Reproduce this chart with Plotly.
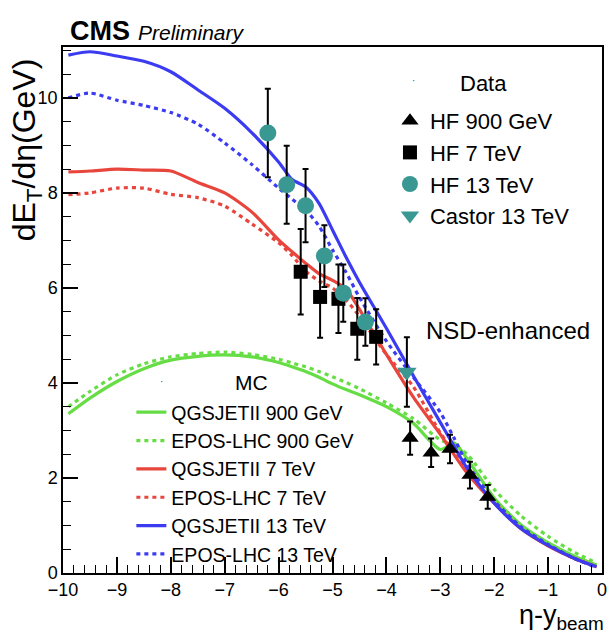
import plotly.graph_objects as go

# ---------------- data ----------------
x_mc = [-9.9, -9.5, -9.0, -8.5, -8.0, -7.5, -7.0, -6.5, -6.0, -5.75, -5.5, -5.25,
        -5.0, -4.75, -4.5, -4.0, -3.5, -3.0, -2.75, -2.5, -2.0, -1.5, -1.0, -0.5, -0.1]

qgs_900 = [3.35, 3.68, 4.03, 4.30, 4.48, 4.56, 4.59, 4.55, 4.43, 4.34, 4.24, 4.12,
           3.98, 3.86, 3.75, 3.50, 3.15, 2.60, 2.74, 2.40, 1.58, 1.01, 0.64, 0.35, 0.17]
epos_900 = [3.50, 3.82, 4.17, 4.40, 4.55, 4.62, 4.65, 4.60, 4.50, 4.42, 4.34, 4.24,
            4.13, 4.01, 3.88, 3.58, 3.25, 2.80, 2.70, 2.50, 1.76, 1.20, 0.77, 0.43, 0.21]
qgs_7 = [8.44, 8.46, 8.50, 8.48, 8.46, 8.22, 8.00, 7.60, 7.01, 6.76, 6.52, 6.30,
         6.16, 5.98, 5.55, 4.60, 3.70, 2.92, 2.50, 2.10, 1.47, 0.93, 0.57, 0.30, 0.13]
epos_7 = [7.96, 8.00, 8.10, 8.10, 7.97, 7.90, 7.72, 7.35, 6.95, 6.68, 6.35, 6.15,
          6.00, 5.75, 5.40, 4.60, 3.92, 2.95, 2.55, 2.15, 1.50, 0.96, 0.58, 0.30, 0.13]
qgs_13 = [10.90, 10.97, 10.88, 10.77, 10.55, 10.17, 9.78, 9.27, 8.65, 8.28, 8.13, 7.78,
          7.22, 6.65, 6.12, 5.15, 4.15, 3.17, 2.68, 2.20, 1.47, 0.93, 0.58, 0.30, 0.13]
epos_13 = [10.00, 10.10, 9.95, 9.84, 9.69, 9.45, 9.05, 8.60, 8.10, 7.87, 7.64, 7.30,
           6.80, 6.33, 5.80, 4.88, 4.12, 3.38, 2.85, 2.30, 1.52, 0.97, 0.60, 0.30, 0.12]

hf900_x = [-3.56, -3.17, -2.82, -2.45, -2.12]
hf900_y = [2.84, 2.53, 2.61, 2.06, 1.60]
hf900_e = [0.35, 0.30, 0.30, 0.28, 0.25]

hf7_x = [-5.59, -5.23, -4.89, -4.54, -4.19]
hf7_y = [6.34, 5.81, 5.77, 5.14, 4.97]
hf7_e = [0.90, 0.86, 0.72, 0.65, 0.58]

hf13_x = [-6.20, -5.85, -5.50, -5.15, -4.80, -4.39]
hf13_y = [9.26, 8.17, 7.73, 6.67, 5.89, 5.28]
hf13_e = [0.93, 0.82, 0.77, 0.65, 0.60, 0.50]

castor_x = [-3.62]
castor_y = [4.23]
castor_e = [0.73]

mc_names = ["QGSJETII 900 GeV", "EPOS-LHC 900 GeV", "QGSJETII 7 TeV",
            "EPOS-LHC 7 TeV", "QGSJETII 13 TeV", "EPOS-LHC 13 TeV"]
data_names = ["HF 900 GeV", "HF 7 TeV", "HF 13 TeV", "Castor 13 TeV"]

# ---------------- styles ----------------
GREEN = "#66dd44"
RED = "#e8453c"
BLUE = "#3b3bf2"
TEAL = "#3a9893"
FONT = "Liberation Sans, Arial, Helvetica, sans-serif"

fig = go.Figure()

mc_series = [qgs_900, epos_900, qgs_7, epos_7, qgs_13, epos_13]
mc_colors = [GREEN, GREEN, RED, RED, BLUE, BLUE]
mc_dash = ["solid", "4px,4px", "solid", "4px,4px", "solid", "4px,4px"]
for name, ys, col, dash in zip(mc_names, mc_series, mc_colors, mc_dash):
    fig.add_trace(go.Scatter(
        x=x_mc, y=ys, mode="lines", name=name, legend="legend",
        line=dict(color=col, width=3.2, dash=dash, shape="spline", smoothing=0.7),
    ))

pts = [
    (hf900_x, hf900_y, hf900_e, "triangle-up", "black", 15),
    (hf7_x, hf7_y, hf7_e, "square", "black", 14),
    (hf13_x, hf13_y, hf13_e, "circle", TEAL, 17),
    (castor_x, castor_y, castor_e, "triangle-down", TEAL, 17),
]
for name, (xs, ys, es, sym, col, sz) in zip(data_names, pts):
    fig.add_trace(go.Scatter(
        x=xs, y=ys, mode="markers", name=name, legend="legend2",
        marker=dict(symbol=sym, color=col, size=sz, line=dict(width=0)),
        error_y=dict(type="data", array=es, visible=True, color="black",
                     thickness=2, width=3),
    ))

# plot area: x 63..607, y 47..573 px
def px_x(p):
    return (p - 63) / 544.0

def px_y(p):
    return (573 - p) / 526.0

ann = [
    dict(text="<b>CMS</b>", x=px_x(68), y=px_y(31), xanchor="left", yanchor="middle",
         font=dict(size=27, color="black", family=FONT)),
    dict(text="<i>Preliminary</i>", x=px_x(137), y=px_y(32), xanchor="left", yanchor="middle",
         font=dict(size=21, color="black", family=FONT)),
    dict(text="dE<sub>T</sub>/dη(GeV)", x=px_x(27), y=px_y(150), xanchor="center",
         yanchor="middle", textangle=-90,
         font=dict(size=32, color="black", family=FONT)),
    dict(text="η-y<sub>beam</sub>", x=px_x(611), y=px_y(598), xanchor="right",
         yanchor="top", font=dict(size=27, color="black", family=FONT)),
    dict(text="NSD-enhanced", x=px_x(512), y=px_y(330), xanchor="center",
         yanchor="middle", font=dict(size=24, color="black", family=FONT)),
    dict(text="Data", x=px_x(487), y=px_y(83), xanchor="center", yanchor="middle",
         font=dict(size=22, color="black", family=FONT)),
    dict(text="MC", x=px_x(253), y=px_y(382), xanchor="center", yanchor="middle",
         font=dict(size=21, color="black", family=FONT)),
    dict(text="·", x=px_x(417), y=px_y(80), xanchor="center", yanchor="middle",
         font=dict(size=10, color="#555555", family=FONT)),
    dict(text="·", x=px_x(162), y=px_y(381), xanchor="center", yanchor="middle",
         font=dict(size=10, color="#555555", family=FONT)),
]
for a in ann:
    a.update(xref="paper", yref="paper", showarrow=False)

fig.update_layout(
    width=616, height=642,
    margin=dict(l=63, r=9, t=47, b=69),
    paper_bgcolor="white", plot_bgcolor="white",
    font=dict(family=FONT, color="black"),
    annotations=ann,
    legend=dict(x=px_x(132), y=px_y(393), xanchor="left", yanchor="top",
                bgcolor="rgba(0,0,0,0)", font=dict(size=19.5, family=FONT, color="black"),
                tracegroupgap=0),
    legend2=dict(x=px_x(393), y=px_y(100), xanchor="left", yanchor="top",
                 bgcolor="rgba(0,0,0,0)", font=dict(size=22, family=FONT, color="black"),
                 tracegroupgap=0),
)

fig.update_xaxes(
    range=[-10, 0], tickvals=list(range(-10, 1)),
    ticktext=["−10" if v == -10 else ("0" if v == 0 else "−%d" % (-v)) for v in range(-10, 1)],
    ticks="inside", ticklen=16, tickwidth=1.5, tickcolor="black",
    minor=dict(dtick=0.2, ticks="inside", ticklen=8, tickwidth=1.2, tickcolor="black"),
    showline=True, linecolor="black", linewidth=1.5, mirror=True,
    showgrid=False, zeroline=False,
    tickfont=dict(size=18, family=FONT, color="black"),
)
fig.update_yaxes(
    range=[0, 11.07], tickvals=[0, 2, 4, 6, 8, 10],
    ticks="inside", ticklen=15, tickwidth=1.5, tickcolor="black",
    minor=dict(dtick=0.5, ticks="inside", ticklen=8, tickwidth=1.2, tickcolor="black"),
    showline=True, linecolor="black", linewidth=1.5, mirror=True,
    showgrid=False, zeroline=False,
    tickfont=dict(size=18, family=FONT, color="black"),
)

fig.write_html("out.html")
